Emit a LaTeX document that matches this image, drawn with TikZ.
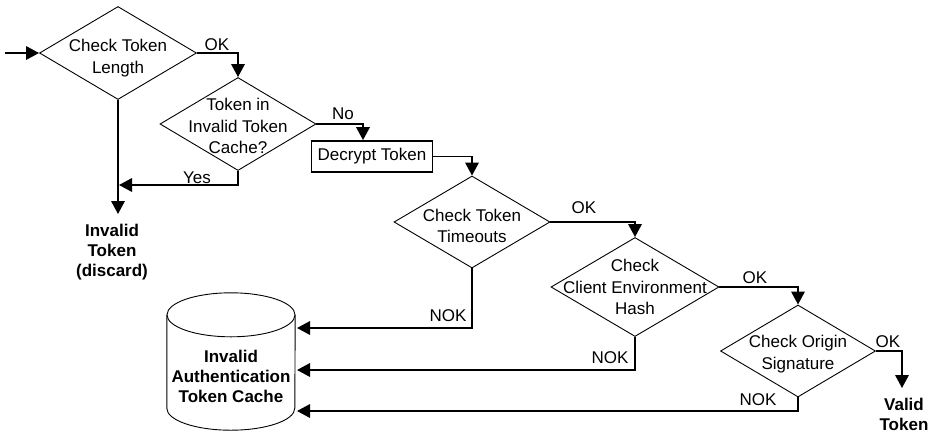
\documentclass[tikz,border=0pt]{standalone}
\usepackage{fontspec}
\setmainfont{Liberation Sans}
\usetikzlibrary{shapes.geometric,arrows.meta}

\tikzset{
  decision/.style={shape=diamond, draw, line width=0.9pt, inner sep=0pt},
  dtext/.style={align=center, inner sep=0pt, font=\fontsize{17}{21.5}\selectfont},
  btext/.style={align=center, inner sep=0pt, font=\fontsize{17}{20}\selectfont\bfseries},
  process/.style={draw, line width=1.8pt, inner sep=0pt, minimum width=121pt, minimum height=31pt,
                  font=\fontsize{17}{21}\selectfont},
  elabel/.style={inner sep=0pt, font=\fontsize{17}{21}\selectfont},
  flow/.style={line width=1.8pt, -{Triangle[length=13pt,width=13.5pt]}},
}

\begin{document}
\begin{tikzpicture}[x=1pt,y=-1pt]
\useasboundingbox (0,0) rectangle (929,432);

% decision diamonds
\node[decision, minimum width=157pt, minimum height=93pt] (d1) at (118,53) {};
\node[dtext] (d1t) at (118,58) {Check Token\\Length};

\node[decision, minimum width=156pt, minimum height=93pt] (d2) at (238,124) {};
\node[dtext] (d2t) at (238,126) {Token in\\Invalid Token\\Cache?};

\node[process] (dec) at (372,156.5) {Decrypt Token};

\node[decision, minimum width=156pt, minimum height=92pt] (d3) at (472,222) {};
\node[dtext] (d3t) at (472,226) {Check Token\\Timeouts};

\node[decision, minimum width=168pt, minimum height=99pt] (d4) at (635,287) {};
\node[dtext] (d4t) at (635,287) {Check\\Client Environment\\Hash};

\node[decision, minimum width=155pt, minimum height=92pt] (d5) at (798,351) {};
\node[dtext] (d5t) at (798,354) {Check Origin\\Signature};

% token cache (cylinder)
\node[minimum width=128pt, minimum height=93pt, inner sep=0pt] (cache) at (231,361.5) {};
\draw[line width=0.9pt] (cache.north west) -- (cache.south west)
  arc[start angle=180, end angle=360, x radius=64pt, y radius=22pt] -- (cache.north east);
\draw[line width=0.9pt] (cache.north) ellipse[x radius=64pt, y radius=22pt];
\node[btext] (cachet) at (231,376) {Invalid\\Authentication\\Token Cache};

% end results
\node[btext] (discard) at (112,252) {Invalid\\Token\\(discard)};
\node[btext] (valid) at (904,414) {Valid\\Token};

% connector end points
\coordinate (start) at (5,53);
\coordinate (dtip) at (118,214);
\coordinate (yesin) at (119,185);
\coordinate (vtip) at (902,388);
\coordinate (in1) at (297,328);
\coordinate (in2) at (297,370);
\coordinate (in3) at (297,411);

% connectors
\draw[flow] (start) -- (d1.west);
\draw[flow] (d1.east) -| (d2.north);
\draw[flow] (d1.south) -- (dtip);
\draw[flow] (d2.south) |- (yesin);
\draw[flow] (d2.east) -| ([xshift=-9pt]dec.north);
\draw[flow] (dec.east) -| (d3.north);
\draw[flow] (d3.east) -| (d4.north);
\draw[flow] (d4.east) -| (d5.north);
\draw[flow] (d5.east) -| (vtip);
\draw[flow] (d3.south) |- (in1);
\draw[flow] (d4.south) |- (in2);
\draw[flow] (d5.south) |- (in3);

% connector labels
\node[elabel] (l1) at (217,45) {OK};
\node[elabel] (l2) at (343,114) {No};
\node[elabel] (l3) at (197,178) {Yes};
\node[elabel] (l4) at (584,208) {OK};
\node[elabel] (l5) at (755,278) {OK};
\node[elabel] (l6) at (888,342) {OK};
\node[elabel] (l7) at (448,316) {NOK};
\node[elabel] (l8) at (610,358) {NOK};
\node[elabel] (l9) at (758,400) {NOK};
\end{tikzpicture}
\end{document}
